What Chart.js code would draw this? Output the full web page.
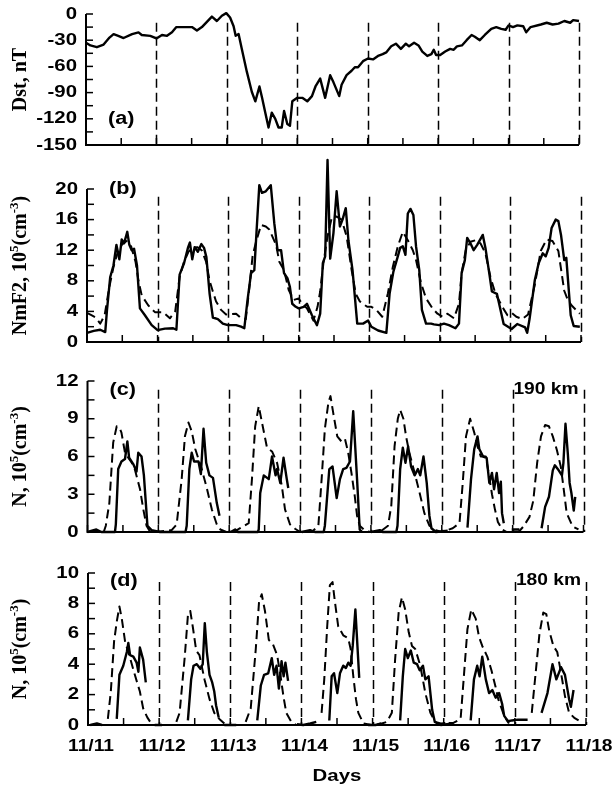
<!DOCTYPE html>
<html>
<head>
<meta charset="utf-8">
<script src="https://cdn.jsdelivr.net/npm/chart.js@4.4.1/dist/chart.umd.min.js"></script>
<style>
  html, body { margin: 0; padding: 0; background: #fff; }
  #wrap { position: relative; width: 615px; height: 787px; }
  #wrap canvas { position: absolute; left: 0; top: 0; }
</style>
</head>
<body>
<div id="wrap">
  <canvas id="panelA" width="615" height="787"></canvas>
  <canvas id="panelB" width="615" height="787"></canvas>
  <canvas id="panelC" width="615" height="787"></canvas>
  <canvas id="panelD" width="615" height="787"></canvas>
</div>
<script>
// time axis: hours since 11/11 00:00
const dayTicks = [0, 24, 48, 72, 96, 120, 144, 168];
const dayLabels = ['11/11', '11/12', '11/13', '11/14', '11/15', '11/16', '11/17', '11/18'];

// (a) Dst index, nT  [hour, value]
const dst = [[0,-33],[1.5,-36],[3.7,-38],[6,-35],[8,-27],[9.4,-23],[11,-25],[12.8,-27.5],[15.7,-23],[17.9,-21],[19,-24],[21.9,-25],[24,-28],[25.9,-24],[27.6,-25],[29.3,-21],[30.8,-15],[36.1,-15],[37.8,-19],[39.5,-15],[41.2,-9],[42.9,-3],[44.6,-8],[46.3,-2],[47.8,1],[49.1,-4],[50.3,-14],[51,-25],[52,-23],[53.1,-40],[54.8,-66],[56.5,-89],[57.7,-100],[59.1,-83],[60,-96],[61.1,-113],[62.2,-130],[63.3,-113],[64.5,-120],[65.6,-130],[66.7,-130],[67.5,-111],[68.6,-126],[69.5,-128],[70.3,-100],[72,-96],[73.7,-96],[75.4,-100],[77,-94],[78.2,-83],[79.8,-74],[81.5,-96],[83.2,-70],[84.3,-78],[86.3,-94],[87.1,-81],[88.8,-70],[90.5,-65],[91.6,-61],[92.7,-61],[94.4,-54],[96.1,-51],[97.8,-52],[99.5,-48],[101.1,-46],[102.3,-44],[104,-37],[105.6,-34],[107.3,-40],[109,-34],[110.1,-37],[111.8,-33],[113.3,-36],[114.6,-43],[116.3,-48],[117.7,-46],[118.5,-41],[119.3,-47],[120.7,-47],[122.4,-43],[124.1,-40],[125.3,-41],[126.4,-37],[128.1,-36],[129.7,-30],[131.4,-24],[132.5,-26],[134.2,-30],[135.9,-24],[138.1,-17],[139.8,-15],[141.5,-17],[143,-18],[144,-13],[145.5,-15],[147,-13],[149,-14],[150,-21],[151.5,-15],[155,-12],[157,-10],[159,-12],[161,-11],[163,-8],[165,-10],[166,-7],[168,-8]];

// (b) NmF2, 10^5 cm^-3 : observed (solid) and model (dashed)
const nmf2Obs = [[0,1.2],[2.3,1.45],[4.5,1.6],[6.2,1.3],[6.8,4.2],[7.9,8.5],[9,10],[10,12.7],[11,10.8],[11.8,13.4],[12.6,12.9],[13.7,14.4],[14.4,12.7],[15.2,12],[16,12.2],[17,10],[18,4.4],[19.7,3.5],[22,2.2],[24,1.55],[26.5,1.75],[29.3,1.8],[30.4,1.6],[31.5,8.8],[33,10.3],[34.4,12.4],[35,13],[35.8,10.8],[36.6,12.4],[37.7,11.8],[38.9,12.8],[39.8,12.3],[40.6,11.1],[41.7,6.3],[42.8,3.2],[44.5,3],[46.2,2.4],[47.9,2.2],[50.7,2.2],[52.4,2],[53.5,1.8],[54.6,5.5],[55.8,9],[56.9,9.4],[57.7,14.7],[58.6,20.5],[59.5,19.5],[60.8,19.7],[62.5,20.5],[63.7,15.5],[64.8,12],[66,12],[67,9],[68.2,8.3],[69,7.2],[69.8,5],[71,4.6],[72,4.4],[73.7,4.6],[74.8,5],[76.5,3.5],[78.2,2.2],[79.3,3.7],[80.2,10.3],[81,11.2],[81.8,23.8],[82.7,10.9],[83.8,14.2],[84.9,19.7],[86,15.1],[86.9,16],[88,17.5],[88.9,13.3],[90.3,9.4],[91.9,2.4],[93.9,2.4],[95.6,2.8],[96.7,2],[99,1.5],[101.8,1.2],[102.9,6.3],[104.2,9.2],[105.7,11.2],[106.5,12.3],[107.4,12.5],[108.3,11.4],[109.1,16.8],[110,17.4],[111,16.6],[111.9,12.5],[113,9.4],[113.9,4.2],[115.3,2.4],[117,2.4],[118,2.3],[119.8,2.2],[121.4,2.4],[123.1,2.2],[125.3,1.8],[126.5,2.4],[127.4,9],[128.5,10.7],[129.3,13.6],[130.4,12.9],[131.5,12],[132.7,12.7],[134.6,14],[135.5,12.3],[136.8,9],[137.7,6.6],[139.4,6.3],[141.7,2.35],[144.4,1.7],[146.3,2.35],[149,1.9],[149.7,1.2],[150.5,3],[152.3,8.1],[153.6,10.3],[155,11.6],[156,11.2],[157,12.3],[158,14.9],[159.4,16],[160.3,15.8],[161.2,14],[162.3,10.7],[163,11],[163.6,8],[164.5,3.5],[165.5,2.1],[167.6,2]];
const nmf2Model = [[0,3.8],[1.5,3.5],[3,3.2],[4.5,2.4],[6,3.5],[7.5,7],[9,9.8],[10.5,11.8],[12,12.8],[13.5,13.2],[15,12.5],[16.5,10.5],[17.5,8],[18.6,6.1],[20.8,4.8],[23.1,3.9],[25.9,3.9],[28.2,3.1],[30,4],[31.5,8.5],[33,10.5],[34.5,11.8],[36,12.3],[37.5,12.4],[39,12],[40.5,10.5],[41.7,8],[42.8,6.6],[43.9,5.3],[45.6,4.2],[47.3,3.6],[50.7,3.7],[52.4,3.1],[54,3],[55,6.3],[56.3,11.2],[57.5,13.1],[59.2,15.3],[60.8,15.1],[62,14.7],[64.3,12.7],[65.4,10.5],[67,9.4],[68.6,6.8],[70.3,5.5],[72,5.7],[73.1,5],[74.8,4.4],[77,2.8],[78.4,4.6],[79.3,6.6],[80.4,10.3],[81.8,13.8],[83.2,16.2],[84.9,16.4],[86.6,16],[88.3,13.8],[90,9.4],[91.4,6.3],[92.8,5.3],[95.3,4.6],[96.7,4.6],[98.4,4.2],[100.4,3.3],[102.3,6.3],[104,9.8],[105.7,12.5],[107.4,14.4],[109.1,13.3],[110.8,12],[111.9,10.7],[113.6,7.7],[115.3,5.7],[117.5,4.4],[119.2,3.7],[120.9,3.3],[122.6,3.7],[124.8,3.1],[126.5,5],[127.4,9],[128.8,12],[130.4,13.1],[132.1,13.3],[133.8,12.9],[135.5,11.6],[137.2,8.5],[138.9,6.3],[141.7,4.3],[143,3.5],[144.5,3.8],[146,3.3],[148,3],[150,3.6],[152.3,7.5],[154.3,11.9],[156.3,13.4],[158.3,13.2],[160.3,11.9],[162.3,6.7],[163.6,5.4],[165,4.7],[167.6,3.7]];

// (c) N at 190 km, 10^5 cm^-3
const n190Obs = [[0,0],[3,0.2],[4.7,0],[9.3,0],[9.6,0.6],[10.4,5],[11.5,5.6],[12.7,5.8],[13.5,7.2],[14.1,5.9],[15.5,5.4],[16.6,4.8],[17.2,6.3],[18.3,6],[19.1,4.5],[20.3,0.5],[21.7,0.15],[24.6,0],[33.2,0],[33.6,0.5],[34.5,5],[35.3,6.3],[36.1,5.6],[37.6,5.6],[38.4,4.6],[39.3,8.2],[40.2,5.5],[41.3,4.5],[42.5,4.3],[43.8,2.3],[44.7,1.3],[45,null],[48.5,0],[50,0.2],[51,0],[57.7,0],[58,0.2],[58.5,3.1],[59.7,4.5],[61.4,4.2],[62.5,6],[63.7,4.5],[64.2,5],[65.3,3.9],[66.4,5.9],[67.5,4.2],[68,3.5],[69,null],[72.6,0],[75.4,0.15],[77,0],[80,0],[80.4,0.5],[81.9,5],[83,5.2],[84.4,2.7],[85.5,4.2],[86.6,5],[87.7,5.1],[88.9,5.6],[90,9.6],[91.3,4.2],[92.2,0.2],[93,0],[94,null],[96,0],[99,0.15],[100,0],[104.6,0],[105,0.5],[105.9,5],[106.8,6.7],[107.7,5.5],[108.6,6.8],[109.6,5.2],[110.8,4.5],[111.9,5],[112.7,4.5],[113.8,6],[114.9,3.9],[115.8,1.3],[116.5,0.3],[118,0],[122,0.1],[125,null],[128.7,0.35],[129.9,4.2],[131,6.6],[132.1,7.6],[132.7,6.6],[134,6],[135.2,5.9],[136.1,3.9],[137,4.7],[137.7,3.4],[138.6,4.7],[139.4,3.1],[140,4],[140.4,1.5],[141,0.7],[142,null],[143.7,0.2],[146.3,0.2],[150,null],[153.8,0.3],[155,2],[156.3,2.8],[157.6,4.9],[158.3,5.3],[159.6,4.9],[160.7,4.5],[161.2,5.5],[161.9,8.6],[162.7,6.2],[163.3,3.9],[163.9,3.1],[164.7,1.7],[165.2,2.8]];
const n190Model = [[5.5,0],[6.2,0.5],[7.4,2.3],[8.7,7.1],[9.9,8.4],[11,8.2],[11.5,7.9],[12.7,6.3],[13.8,5.9],[15,5.5],[16,5],[17.8,3.4],[18.9,1.8],[20,0.5],[21,0.1],[23,0],[28.5,0.15],[30.2,0.6],[31.9,4.2],[33,7.6],[34.2,8.7],[35.3,8],[36.5,6.6],[38.7,5],[40.5,3.4],[42.1,1.8],[43.8,0.6],[45,0.2],[47,0],[49.5,0],[51.7,0.3],[54.6,0.7],[55.7,4.2],[56.8,8.4],[58,10],[59.1,8.7],[60.8,6.7],[62.5,6.4],[64.2,5.5],[65.8,3.7],[66.9,1.8],[68.6,0.6],[70.3,0.26],[72,0],[76,0],[78.2,0.5],[79.3,4.2],[80.4,8.2],[81.6,10.3],[82.3,10.8],[83.2,9.5],[84.6,7.6],[86,7.2],[87.2,7.4],[88.3,6.3],[89.4,4.7],[90.5,2.9],[91.3,1.3],[92.2,0.5],[94,0.1],[96,0],[99,0],[101.8,0.5],[102.9,2.1],[104,6.8],[105.1,9],[105.9,9.7],[107,9],[107.9,7.6],[109,6.3],[110.8,4.7],[112.5,3.1],[114.1,1.5],[115.8,0.5],[118,0.15],[120,0],[123.7,0.3],[126,0.7],[127.1,3.9],[128.2,7.6],[129.6,9],[131,7.9],[132.1,6.8],[133.2,6],[134.9,6],[136,4.5],[137,3],[138,1.8],[139,0.8],[140.5,0.2],[142,0],[146,0],[147.7,0.45],[149.7,1.2],[151,2.5],[152.3,5.5],[153.6,7.6],[155,8.5],[156.3,8.4],[157.6,7.6],[159,6.5],[160.3,5.2],[161.2,3.6],[162.3,1.5],[164.3,0.45],[166.3,0.2]];

// (d) N at 180 km, 10^5 cm^-3
const n180Obs = [[0.8,0],[3,0.1],[4.7,0],[6,null],[9.7,0.4],[10.6,3.3],[11.9,3.9],[13.1,4.8],[13.6,5.4],[14.2,4.6],[15.3,4.5],[16.4,4.1],[17,3.5],[17.5,5.1],[18.6,4.3],[19.5,2.8],[20,null],[22.5,0],[25,0],[26,null],[33.7,0.3],[34.8,3],[35.6,3.9],[36.7,4],[37.9,3.7],[38.7,4],[39.4,6.7],[40.1,4.8],[41,3.3],[41.9,2.8],[42.6,2.2],[43.2,1.3],[44.1,0.5],[45,null],[46,0],[50,0],[51,null],[57.1,0.3],[58.3,2.6],[59.4,3.3],[60.8,3.4],[62,4.4],[62.8,3.3],[63.6,3.9],[64.4,2.4],[65.3,4.2],[66,3.2],[66.6,4.1],[67.5,2.9],[68,null],[70.5,0.05],[72.6,0],[75,0.1],[77,0.2],[78,null],[81.4,0.3],[82.2,3.2],[83,3.4],[84.1,2.1],[85,3.4],[86.1,3.9],[87,3.75],[87.8,4.1],[88.6,3.9],[89.3,5.2],[90.2,7.6],[91.5,3.1],[92,null],[94.5,0],[97,0],[99,0.1],[100,null],[105.3,0.3],[106.2,3.2],[107,5],[107.9,4.4],[108.9,4.9],[109.9,4.1],[111,4],[111.9,3.6],[113,3.9],[113.8,3],[114.9,3.2],[116.1,1],[117,0.2],[119,0],[121.1,0.05],[123.4,0.1],[124,null],[129.1,0.3],[130.2,3],[131.3,3.9],[132.1,3.2],[133,4.5],[134.2,3],[135.3,2.1],[136.4,2.3],[137.5,1.8],[138.7,2.1],[139.7,1.4],[140.4,0.6],[141.7,0.25],[143,0.3],[145,0.35],[148.3,0.35],[149,null],[153,0.8],[155,2.1],[156.7,4],[158,3],[159.6,3.8],[160.9,3.3],[162.3,1.7],[162.9,1.2],[163.8,2.3]];
const n180Model = [[6.7,0.4],[7.7,2.2],[8.8,5.5],[9.7,6.8],[10.6,7.8],[11.4,7],[12.5,5.5],[14.2,4.4],[15.8,3.3],[17.5,2.2],[18.6,1.1],[20,0.5],[21,0.2],[22,null],[29.8,0.2],[30.9,0.8],[32.6,4.4],[33.7,7.2],[34.5,7.5],[35.4,6.4],[36.5,4.9],[37.6,4.6],[39.3,3],[41,1.7],[42.6,0.8],[44.3,0.4],[46,0.1],[47,null],[53.2,0.2],[54.9,1.1],[56.6,5],[57.7,8.1],[58.6,8.6],[59.7,7.5],[61,5.6],[62.4,5.3],[63.8,4.6],[64.9,3.3],[66,1.8],[66.9,0.8],[68.6,0.2],[70.3,0],[71,null],[78.8,0.8],[79.7,3],[80.7,6.5],[81.6,9.2],[82.5,9.4],[83.3,8.1],[84.4,6.5],[86.1,5.9],[87.8,5.7],[88.6,5],[89.5,3.2],[90.4,1.7],[91.2,0.8],[92.9,0.1],[95.7,0],[99.1,0.1],[100.8,0.2],[102.5,0.8],[103.6,4.3],[104.8,7.4],[105.9,8.4],[107,7.6],[108.2,6.1],[109.3,5.2],[110.4,5],[112.1,3.9],[113.8,2.1],[115.5,0.8],[117.2,0.2],[119,0.1],[123.4,0.15],[125.7,0.4],[126.8,3.2],[128,6.3],[129.3,7.6],[130.8,7],[131.9,5.8],[133,5.2],[134.7,4.5],[136.1,3.6],[137.5,2.5],[138.4,1.7],[140.4,0.6],[142,0.1],[143,null],[149.7,0.8],[151,3.4],[152.3,6],[153.6,7.4],[154.6,7.3],[155.6,6.2],[157,5.2],[158.3,4.8],[159.6,3.4],[160.9,1.9],[162.3,0.8],[164.2,0.45],[165.5,0.3]];

const FONT_SANS = '"Liberation Sans", Arial, sans-serif';
const FONT_SERIF = '"Liberation Serif", "Times New Roman", serif';
const STRETCH = 1.2; // scanned figure has wide-looking letters

function wideText(ctx, text, x, y, align) {
    ctx.save();
    ctx.translate(x, y);
    ctx.scale(STRETCH, 1);
    ctx.textAlign = align;
    ctx.fillText(text, 0, 0);
    ctx.restore();
}

// rotated axis title, parts flagged true are superscripts
function drawTitle(ctx, parts, cx, cy) {
    const big = 'bold 20px ' + FONT_SERIF;
    const small = 'bold 13px ' + FONT_SERIF;
    ctx.save();
    ctx.translate(cx, cy);
    ctx.rotate(-Math.PI / 2);
    ctx.textBaseline = 'middle';
    ctx.textAlign = 'left';
    let total = 0;
    parts.forEach(p => { ctx.font = p[1] ? small : big; total += ctx.measureText(p[0]).width; });
    let pos = -total / 2;
    parts.forEach(p => {
        ctx.font = p[1] ? small : big;
        ctx.fillText(p[0], pos, p[1] ? -6 : 0);
        pos += ctx.measureText(p[0]).width;
    });
    ctx.restore();
}

// axes, inward ticks, day separators and labels
const panelFrame = {
    id: 'panelFrame',
    beforeDatasetsDraw(chart, args, o) {
        const { ctx, chartArea: a, scales: { x, y } } = chart;
        ctx.save();
        ctx.strokeStyle = '#000';
        ctx.lineWidth = 1.5;
        ctx.setLineDash([9, 5]);
        dayTicks.slice(1).forEach(h => {
            const px = Math.round(x.getPixelForValue(h)) + 0.5;
            ctx.beginPath();
            ctx.moveTo(px, y.getPixelForValue(o.dashTop));
            ctx.lineTo(px, a.bottom);
            ctx.stroke();
        });
        ctx.restore();
    },
    afterDatasetsDraw(chart, args, o) {
        const { ctx, chartArea: a, scales: { x, y } } = chart;
        ctx.save();
        ctx.strokeStyle = '#000';
        ctx.fillStyle = '#000';
        ctx.setLineDash([]);
        ctx.lineWidth = 2;
        ctx.beginPath();
        ctx.moveTo(a.left, a.top);
        ctx.lineTo(a.left, a.bottom);
        ctx.lineTo(a.right, a.bottom);
        ctx.stroke();

        ctx.lineWidth = 1.5;
        for (let v = o.min; v <= o.max + 1e-6; v += o.step / 2) {
            const py = y.getPixelForValue(v);
            ctx.beginPath(); ctx.moveTo(a.left, py); ctx.lineTo(a.left + 7, py); ctx.stroke();
        }
        for (let h = 0; h <= 168; h += 12) {
            const px = x.getPixelForValue(h);
            ctx.beginPath(); ctx.moveTo(px, a.bottom); ctx.lineTo(px, a.bottom - 7); ctx.stroke();
        }

        ctx.font = 'bold 17px ' + FONT_SANS;
        ctx.textBaseline = 'middle';
        for (let v = o.min; v <= o.max + 1e-6; v += o.step) {
            wideText(ctx, String(v), a.left - 9, y.getPixelForValue(v), 'right');
        }

        ctx.font = 'bold 18px ' + FONT_SANS;
        wideText(ctx, o.tag, a.left + 22, y.getPixelForValue(o.tagAt), 'left');
        if (o.height) {
            ctx.font = 'bold 16px ' + FONT_SANS;
            wideText(ctx, o.height, a.right - 5, y.getPixelForValue(o.tagAt), 'right');
        }

        drawTitle(ctx, o.title, 21, (a.top + a.bottom) / 2);

        if (o.showDays) {
            ctx.font = 'bold 16px ' + FONT_SANS;
            dayTicks.forEach((h, i) => wideText(ctx, dayLabels[i], x.getPixelForValue(h) + 3, a.bottom + 22, 'center'));
            ctx.font = 'bold 17px ' + FONT_SANS;
            wideText(ctx, 'Days', (a.left + a.right) / 2, a.bottom + 51, 'center');
        }
        ctx.restore();
    }
};

function makePanel(id, series, o) {
    new Chart(document.getElementById(id), {
        type: 'line',
        data: {
            datasets: series.map(s => ({
                data: s.points.map(p => ({ x: p[0], y: p[1] })),
                borderColor: '#000',
                borderWidth: s.dashed ? 2 : 2.4,
                borderDash: s.dashed ? [9, 5] : [],
                borderJoinStyle: 'round',
                pointRadius: 0,
                tension: 0,
                spanGaps: false,
                clip: false,
                fill: false
            }))
        },
        options: {
            responsive: false,
            animation: false,
            devicePixelRatio: 1,
            // the scanned panels drift a few pixels to the right from top to bottom
            layout: { padding: { left: o.left, right: 615 - o.right, top: o.top, bottom: 787 - o.bottom } },
            scales: {
                x: { type: 'linear', min: 0, max: 168, display: false },
                y: { type: 'linear', min: o.min, max: o.max, display: false }
            },
            plugins: { legend: { display: false }, tooltip: { enabled: false }, panelFrame: o }
        },
        plugins: [panelFrame]
    });
}

const densityTitle = [['N, 10', false], ['5', true], ['(cm', false], ['-3', true], [')', false]];

makePanel('panelA', [{ points: dst }], {
    left: 86, right: 579, top: 14, bottom: 145, min: -150, max: 0, step: 30, dashTop: -10,
    tag: '(a)', tagAt: -120, title: [['Dst, nT', false]]
});
makePanel('panelB', [{ points: nmf2Obs }, { points: nmf2Model, dashed: true }], {
    left: 87, right: 581, top: 189, bottom: 342, min: 0, max: 20, step: 4, dashTop: 19,
    tag: '(b)', tagAt: 20,
    title: [['NmF2, 10', false], ['5', true], ['(cm', false], ['-3', true], [')', false]]
});
makePanel('panelC', [{ points: n190Obs }, { points: n190Model, dashed: true }], {
    left: 87.5, right: 583.5, top: 381, bottom: 532, min: 0, max: 12, step: 3, dashTop: 11.3,
    tag: '(c)', tagAt: 11.3, height: '190 km', title: densityTitle
});
makePanel('panelD', [{ points: n180Obs }, { points: n180Model, dashed: true }], {
    left: 88, right: 586, top: 573, bottom: 725, min: 0, max: 10, step: 2, dashTop: 9.4,
    tag: '(d)', tagAt: 9.5, height: '180 km', title: densityTitle, showDays: true
});
</script>
</body>
</html>
